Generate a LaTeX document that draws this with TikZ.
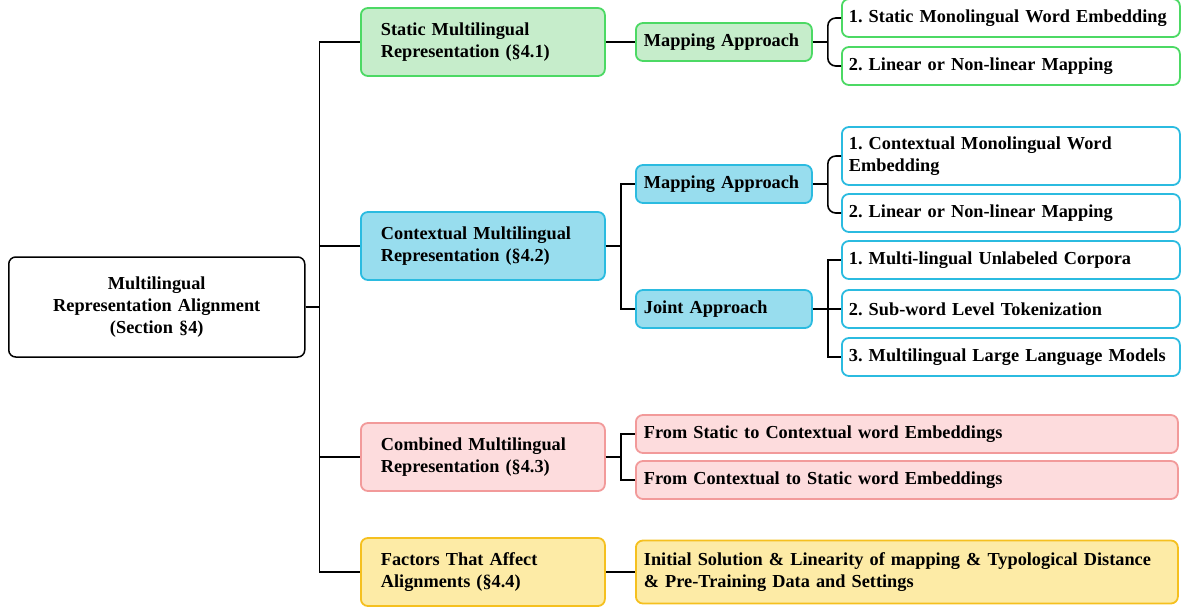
\documentclass[tikz,border=0pt]{standalone}
\usepackage{fontspec}
\setmainfont{Liberation Serif}
\usetikzlibrary{positioning}
\frenchspacing
\definecolor{grnline}{HTML}{4CD964}
\definecolor{grnfill}{HTML}{C6EDCB}
\definecolor{bluline}{HTML}{2BBBE0}
\definecolor{blufill}{HTML}{98DDEE}
\definecolor{pnkline}{HTML}{F29A9A}
\definecolor{pnkfill}{HTML}{FDDCDD}
\definecolor{ylwline}{HTML}{F5C01F}
\definecolor{ylwfill}{HTML}{FDEBA6}
\tikzset{
  box/.style = {draw, rounded corners=7pt, line width=1.8pt, inner ysep=0pt,
    font=\bfseries\fontsize{18.3}{22}\selectfont, anchor=west},
  rootbox/.style = {box, draw=black, line width=1.5pt, text width=260pt, inner xsep=18pt,
    minimum height=100pt, align=center},
  secbox/.style = {box, text width=204pt, inner xsep=20pt, minimum height=68pt, align=left},
  appbox/.style = {box, text width=160pt, inner xsep=8pt, minimum height=38pt, align=left},
  leafbox/.style = {box, fill=white, text width=324pt, inner xsep=7pt, minimum height=38pt, align=left},
  widebox/.style = {box, text width=526pt, inner xsep=8pt, minimum height=38pt, align=left},
  grn/.style = {draw=grnline, fill=grnfill},
  blu/.style = {draw=bluline, fill=blufill},
  pnk/.style = {draw=pnkline, fill=pnkfill},
  ylw/.style = {draw=ylwline, fill=ylwfill},
  edge/.style = {draw, line width=1.6pt}
}
\begin{document}
\begin{tikzpicture}[x=1pt,y=-1pt]
\useasboundingbox (0,0) rectangle (1182,608);
% root and sections
\node [rootbox] (root) at (8,307) {Multilingual\\ Representation Alignment\\ (Section \S4)};
\node [secbox, grn] (s41) at (360,42) {Static Multilingual\\ Representation (\S4.1)};
\node [secbox, blu] (s42) at (360,246) {Contextual Multilingual\\ Representation (\S4.2)};
\node [secbox, pnk] (s43) at (360,457) {Combined Multilingual\\ Representation (\S4.3)};
\node [secbox, ylw] (s44) at (360,572) {Factors That Affect\\ Alignments (\S4.4)};
% approaches
\node [appbox, grn] (map1) at (635,42) {Mapping Approach};
\node [appbox, blu] (map2) at (635,184) {Mapping Approach};
\node [appbox, blu] (joint) at (635,309) {Joint Approach};
% leaves
\node [leafbox, draw=grnline] (g1) at (841,18) {1. Static Monolingual Word Embedding};
\node [leafbox, draw=grnline] (g2) at (841,66) {2. Linear or Non-linear Mapping};
\node [leafbox, draw=bluline, minimum height=58pt] (b1) at (841,156) {1. Contextual Monolingual Word\\ Embedding};
\node [leafbox, draw=bluline] (b2) at (841,213) {2. Linear or Non-linear Mapping};
\node [leafbox, draw=bluline] (j1) at (841,260) {1. Multi-lingual Unlabeled Corpora};
\node [leafbox, draw=bluline] (j2) at (841,309) {2. Sub-word Level Tokenization};
\node [leafbox, draw=bluline] (j3) at (841,357) {3. Multilingual Large Language Models};
\node [widebox, pnk] (c1) at (635,434) {From Static to Contextual word Embeddings};
\node [widebox, pnk] (c2) at (635,480) {From Contextual to Static word Embeddings};
\node [widebox, ylw, minimum height=63pt] (f1) at (635,572) {Initial Solution \& Linearity of mapping \& Typological Distance\\ \& Pre-Training Data and Settings};
% connectors
\foreach \s in {s41,s42,s43,s44}
  \draw [edge] (root.east) -- ++(14,0) |- (\s.west);
\draw [edge] (s41) -- (map1);
\draw [edge] (s44) -- (f1);
\foreach \a in {map2,joint}
  \draw [edge] (s42.east) -- ++(15,0) |- (\a.west);
\foreach \c in {c1,c2}
  \draw [edge] (s43.east) -- ++(15,0) |- (\c.west);
\coordinate (k1) at ([xshift=15pt]map1.east);
\coordinate (k2) at ([xshift=15pt]map2.east);
\draw [edge] (map1.east) -- (k1);
\draw [edge] (map2.east) -- (k2);
\draw [edge, rounded corners=8pt] (k1) |- (g1.west) (k1) |- (g2.west);
\draw [edge, rounded corners=8pt] (k2) |- (b1.west) (k2) |- (b2.west);
\foreach \j in {j1,j2,j3}
  \draw [edge] (joint.east) -- ++(15,0) |- (\j.west);
\end{tikzpicture}
\end{document}
